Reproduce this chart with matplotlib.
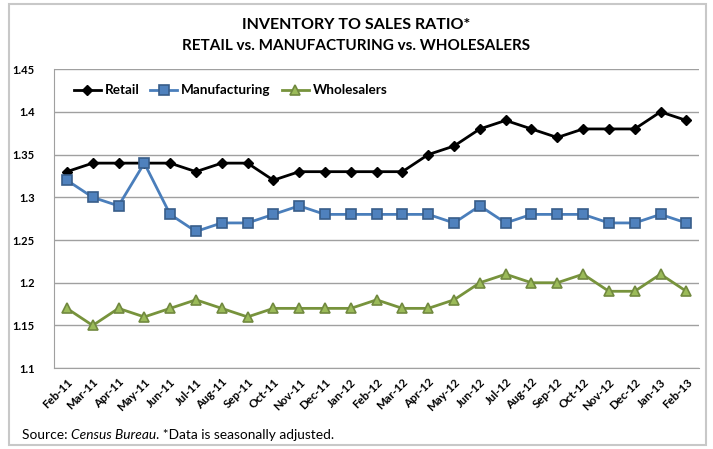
import matplotlib
matplotlib.use('Agg')
import matplotlib.pyplot as plt
from matplotlib.patches import Rectangle

# data
months = ['Feb-11', 'Mar-11', 'Apr-11', 'May-11', 'Jun-11', 'Jul-11', 'Aug-11', 'Sep-11',
          'Oct-11', 'Nov-11', 'Dec-11', 'Jan-12', 'Feb-12', 'Mar-12', 'Apr-12', 'May-12',
          'Jun-12', 'Jul-12', 'Aug-12', 'Sep-12', 'Oct-12', 'Nov-12', 'Dec-12', 'Jan-13', 'Feb-13']
retail = [1.33, 1.34, 1.34, 1.34, 1.34, 1.33, 1.34, 1.34, 1.32, 1.33, 1.33, 1.33, 1.33,
          1.33, 1.35, 1.36, 1.38, 1.39, 1.38, 1.37, 1.38, 1.38, 1.38, 1.40, 1.39]
manufacturing = [1.32, 1.30, 1.29, 1.34, 1.28, 1.26, 1.27, 1.27, 1.28, 1.29, 1.28, 1.28, 1.28,
                 1.28, 1.28, 1.27, 1.29, 1.27, 1.28, 1.28, 1.28, 1.27, 1.27, 1.28, 1.27]
wholesalers = [1.17, 1.15, 1.17, 1.16, 1.17, 1.18, 1.17, 1.16, 1.17, 1.17, 1.17, 1.17, 1.18,
               1.17, 1.17, 1.18, 1.20, 1.21, 1.20, 1.20, 1.21, 1.19, 1.19, 1.21, 1.19]
yticks = [1.1, 1.15, 1.2, 1.25, 1.3, 1.35, 1.4, 1.45]

plt.rcParams['font.family'] = ['Lato', 'DejaVu Sans']

fig = plt.figure(figsize=(7.13, 4.49), dpi=100)
ax = fig.add_axes([0.0757, 0.180, 0.905, 0.666])

x = range(len(months))
ax.plot(x, retail, color='black', lw=2, marker='D', ms=5.5, mfc='black', mec='black', label='Retail')
ax.plot(x, manufacturing, color='#4a7ebb', lw=2, marker='s', ms=7, mfc='#4f81bd', mec='#385d8a',
        mew=1.2, label='Manufacturing')
ax.plot(x, wholesalers, color='#77933c', lw=2, marker='^', ms=7.5, mfc='#9bbb59', mec='#71893f',
        mew=1.2, label='Wholesalers')

ax.set_xlim(-0.5, len(months) - 0.5)
ax.set_ylim(1.1, 1.45)
ax.set_yticks(yticks)
ax.set_yticklabels([f'{v:g}' for v in yticks], fontweight='bold', fontsize=8)
ax.set_xticks(list(x))
ax.set_xticklabels(months, rotation=45, ha='right', rotation_mode='anchor', fontweight='bold', fontsize=8.3)
ax.tick_params(axis='both', length=0, pad=6)
ax.tick_params(axis='y', pad=14)
ax.grid(axis='y', color='#a0a0a0', lw=1)
ax.set_axisbelow(True)
for side in ['top', 'right']:
    ax.spines[side].set_visible(False)
ax.spines['left'].set_color('#a0a0a0')
ax.spines['bottom'].set_color('#a0a0a0')

leg = ax.legend(loc='upper left', ncol=3, frameon=False, prop={'weight': 'bold', 'size': 9.7},
                bbox_to_anchor=(0.012, 0.99), handlelength=2.0, columnspacing=0.8, handletextpad=0.3)

fig.text(0.5, 0.945, 'INVENTORY TO SALES RATIO*', ha='center', va='center', fontsize=11.5, fontweight='bold')
fig.text(0.5, 0.898, 'RETAIL vs. MANUFACTURING vs. WHOLESALERS', ha='center', va='center',
         fontsize=11, fontweight='bold')

src = fig.text(0.031, 0.032, 'Source: ', ha='left', va='center', fontsize=9.9)
fig.canvas.draw()
r = fig.canvas.get_renderer()
bb = src.get_window_extent(r)
t2 = fig.text(bb.x1 / fig.bbox.width, 0.032, 'Census Bureau', ha='left', va='center', fontsize=9.9, style='italic')
bb2 = t2.get_window_extent(r)
fig.text(bb2.x1 / fig.bbox.width, 0.032, '. *Data is seasonally adjusted.', ha='left', va='center', fontsize=9.9)

fig.patches.append(Rectangle((0.012, 0.008), 0.978, 0.982, transform=fig.transFigure, fill=False,
                             edgecolor='#c8c8c8', lw=1.5))

fig.savefig('out.png', dpi=100)
